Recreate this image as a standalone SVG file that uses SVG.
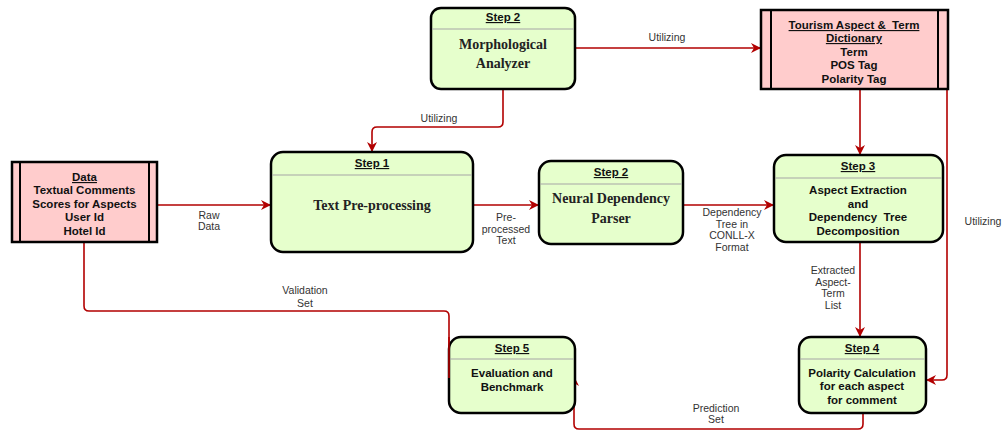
<svg xmlns="http://www.w3.org/2000/svg" width="1005" height="435" viewBox="0 0 1005 435">
<defs>
<style>
.box{fill:#E6FFCC;stroke:#000;stroke-width:2.5}
.pink{fill:#FFCCCC;stroke:#000;stroke-width:2.5}
.div{stroke:#A6A6A6;stroke-width:1.2}
.inner{stroke:#000;stroke-width:2}
.edge{fill:none;stroke:#B20000;stroke-width:1.6}
.hd{font-family:"Liberation Sans",Arial,sans-serif;font-weight:bold;font-size:11.5px;text-decoration:underline;fill:#111;text-anchor:middle}
.tx{font-family:"Liberation Sans",Arial,sans-serif;font-weight:bold;font-size:11.5px;fill:#111;text-anchor:middle}
.sf{font-family:"Liberation Serif","Times New Roman",serif;font-weight:bold;font-size:14px;fill:#222;text-anchor:middle}
.lb{font-family:"Liberation Sans",Arial,sans-serif;font-size:10.5px;fill:#333;text-anchor:middle}
</style>
<marker id="arr" viewBox="0 0 10 10" refX="9" refY="5" markerWidth="10" markerHeight="10" markerUnits="userSpaceOnUse" orient="auto">
<path d="M0,0 L10,5 L0,10 L3,5 Z" fill="#B20000"/>
</marker>
</defs>

<g id="connectors">
<path class="edge" d="M575,48 H760" marker-end="url(#arr)"/>
<path class="edge" d="M503,89 V122 Q503,127 498,127 H377 Q372,127 372,132 V151" marker-end="url(#arr)"/>
<path class="edge" d="M157,205 H270" marker-end="url(#arr)"/>
<path class="edge" d="M473,205 H538" marker-end="url(#arr)"/>
<path class="edge" d="M683,205 H773" marker-end="url(#arr)"/>
<path class="edge" d="M860,89 V154" marker-end="url(#arr)"/>
<path class="edge" d="M947,89 V375 Q947,380 942,380 H927" marker-end="url(#arr)"/>
<path class="edge" d="M860,242 V336" marker-end="url(#arr)"/>
<path class="edge" d="M863,413 V424 Q863,429 858,429 H579 Q574,429 574,424 V377" marker-end="url(#arr)"/>
<path class="edge" d="M84,242 V306 Q84,311 89,311 H444 Q449,311 449,316 V378"/>
<text class="lb" x="667" y="41">Utilizing</text>
<text class="lb" x="439" y="122">Utilizing</text>
<text class="lb" x="209" y="219">Raw</text>
<text class="lb" x="209" y="230">Data</text>
<text class="lb" x="506" y="221">Pre-</text>
<text class="lb" x="506" y="233">processed</text>
<text class="lb" x="506" y="244">Text</text>
<text class="lb" x="732" y="216">Dependency</text>
<text class="lb" x="732" y="227.5">Tree in</text>
<text class="lb" x="732" y="239">CONLL-X</text>
<text class="lb" x="732" y="250.5">Format</text>
<text class="lb" x="833" y="274">Extracted</text>
<text class="lb" x="833" y="286">Aspect-</text>
<text class="lb" x="833" y="297">Term</text>
<text class="lb" x="833" y="309">List</text>
<text class="lb" x="983" y="225">Utilizing</text>
<text class="lb" x="305" y="294">Validation</text>
<text class="lb" x="305" y="307">Set</text>
<text class="lb" x="716" y="412">Prediction</text>
<text class="lb" x="716" y="423">Set</text>
</g>

<g id="morph">
<rect class="box" x="431" y="8" width="144" height="81" rx="10"/>
<line class="div" x1="432" y1="29" x2="574" y2="29"/>
<text class="hd" x="503" y="21">Step 2</text>
<text class="sf" x="503" y="49">Morphological</text>
<text class="sf" x="503" y="68">Analyzer</text>
</g>

<g id="dictionary">
<rect class="pink" x="761" y="10" width="187" height="79"/>
<line class="inner" x1="771" y1="10" x2="771" y2="89"/>
<line class="inner" x1="938" y1="10" x2="938" y2="89"/>
<text class="hd" x="854" y="29" xml:space="preserve">Tourism Aspect &amp;  Term</text>
<text class="hd" x="854" y="42">Dictionary</text>
<text class="tx" x="854" y="56">Term</text>
<text class="tx" x="854" y="69">POS Tag</text>
<text class="tx" x="854" y="83">Polarity Tag</text>
</g>

<g id="data">
<rect class="pink" x="12" y="162" width="145" height="80"/>
<line class="inner" x1="20" y1="162" x2="20" y2="242"/>
<line class="inner" x1="149" y1="162" x2="149" y2="242"/>
<text class="hd" x="84.5" y="181">Data</text>
<text class="tx" x="84.5" y="194">Textual Comments</text>
<text class="tx" x="84.5" y="208">Scores for Aspects</text>
<text class="tx" x="84.5" y="221">User Id</text>
<text class="tx" x="84.5" y="235">Hotel Id</text>
</g>

<g id="step1">
<rect class="box" x="271" y="152" width="202" height="100" rx="12"/>
<line class="div" x1="272" y1="175" x2="472" y2="175"/>
<text class="hd" x="372" y="167">Step 1</text>
<text class="sf" x="372" y="210">Text Pre-processing</text>
</g>

<g id="parser">
<rect class="box" x="539" y="161" width="144" height="83" rx="12"/>
<line class="div" x1="540" y1="184" x2="682" y2="184"/>
<text class="hd" x="611" y="176">Step 2</text>
<text class="sf" x="611" y="203">Neural Dependency</text>
<text class="sf" x="611" y="223">Parser</text>
</g>

<g id="step3">
<rect class="box" x="774" y="155" width="169" height="87" rx="12"/>
<line class="div" x1="775" y1="178" x2="942" y2="178"/>
<text class="hd" x="858" y="170">Step 3</text>
<text class="tx" x="858" y="194">Aspect Extraction</text>
<text class="tx" x="858" y="208">and</text>
<text class="tx" x="858" y="221" xml:space="preserve">Dependency  Tree</text>
<text class="tx" x="858" y="235">Decomposition</text>
</g>

<g id="step4">
<rect class="box" x="799" y="337" width="127" height="76" rx="12"/>
<line class="div" x1="800" y1="359" x2="925" y2="359"/>
<text class="hd" x="862" y="352">Step 4</text>
<text class="tx" x="862" y="377">Polarity Calculation</text>
<text class="tx" x="862" y="390">for each aspect</text>
<text class="tx" x="862" y="404">for comment</text>
</g>

<g id="step5">
<rect class="box" x="449" y="337" width="126" height="76" rx="12"/>
<line class="div" x1="450" y1="359" x2="574" y2="359"/>
<text class="hd" x="512" y="352">Step 5</text>
<text class="tx" x="512" y="377">Evaluation and</text>
<text class="tx" x="512" y="391">Benchmark</text>
</g>
<path class="edge" d="M449,337 V378"/>
</svg>
